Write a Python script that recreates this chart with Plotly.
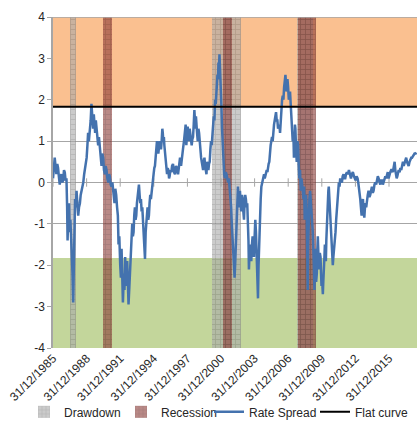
import pandas as pd
import plotly.graph_objects as go

# ---------------- data ----------------
spread_years = [
    1986.00, 1986.08, 1986.15, 1986.22, 1986.30, 1986.38, 1986.45, 1986.52, 1986.60, 1986.68,
    1986.75, 1986.82, 1986.90, 1986.98, 1987.05, 1987.12, 1987.20, 1987.26, 1987.30, 1987.36,
    1987.43, 1987.49, 1987.55, 1987.61, 1987.67, 1987.74, 1987.80, 1987.84, 1987.88, 1987.93,
    1987.97, 1988.03, 1988.10, 1988.17, 1988.25, 1988.32, 1988.40, 1988.47, 1988.55, 1988.62,
    1988.70, 1988.78, 1988.85, 1988.92, 1989.00, 1989.07, 1989.13, 1989.20, 1989.30, 1989.36,
    1989.43, 1989.48, 1989.52, 1989.58, 1989.64, 1989.70, 1989.76, 1989.82, 1989.88, 1989.95,
    1990.03, 1990.10, 1990.18, 1990.26, 1990.33, 1990.40, 1990.48, 1990.55, 1990.63, 1990.70,
    1990.78, 1990.85, 1990.93, 1991.00, 1991.07, 1991.15, 1991.22, 1991.30, 1991.37,
    1991.49, 1991.56, 1991.64, 1991.72, 1991.79, 1991.85, 1991.92, 1992.00, 1992.06, 1992.12,
    1992.18, 1992.24, 1992.29, 1992.33, 1992.38, 1992.44, 1992.49, 1992.53, 1992.58, 1992.62,
    1992.68, 1992.74, 1992.80, 1992.86, 1992.92, 1992.98, 1993.03, 1993.07, 1993.13, 1993.19,
    1993.25, 1993.31, 1993.37, 1993.43, 1993.49, 1993.55, 1993.61, 1993.67, 1993.73, 1993.79,
    1993.85, 1993.91, 1993.97, 1994.03, 1994.08, 1994.12, 1994.17, 1994.21, 1994.27, 1994.33,
    1994.39, 1994.44, 1994.50, 1994.56, 1994.62, 1994.68, 1994.74, 1994.80, 1994.86, 1994.92,
    1994.98, 1995.04, 1995.10, 1995.16, 1995.22, 1995.28, 1995.34, 1995.40, 1995.46, 1995.52,
    1995.58, 1995.64, 1995.70, 1995.76, 1995.80, 1995.85, 1995.90, 1995.94, 1996.00, 1996.06,
    1996.12, 1996.18, 1996.24, 1996.30, 1996.36, 1996.41, 1996.48, 1996.56, 1996.63, 1996.71,
    1996.80, 1996.89, 1996.98, 1997.07, 1997.16, 1997.25, 1997.34, 1997.43, 1997.51, 1997.60,
    1997.69, 1997.78, 1997.84, 1997.90, 1997.96, 1998.02, 1998.08, 1998.14, 1998.20, 1998.26,
    1998.32, 1998.38, 1998.44, 1998.50, 1998.56, 1998.62, 1998.67, 1998.71, 1998.76, 1998.80,
    1998.86, 1998.92, 1998.98, 1999.04, 1999.10, 1999.16, 1999.22, 1999.28, 1999.34, 1999.40,
    1999.46, 1999.52, 1999.58, 1999.64, 1999.70, 1999.75, 1999.81, 1999.87, 1999.93, 1999.99,
    2000.05, 2000.11, 2000.17, 2000.23, 2000.29, 2000.35, 2000.41, 2000.47, 2000.53, 2000.59,
    2000.64, 2000.68, 2000.73, 2000.77, 2000.82, 2000.86, 2000.91, 2000.95, 2001.00, 2001.04,
    2001.09, 2001.13, 2001.18, 2001.22, 2001.28, 2001.34, 2001.42, 2001.49, 2001.56, 2001.63,
    2001.70, 2001.78, 2001.84, 2001.90, 2001.96, 2002.02, 2002.08, 2002.14,
    2002.21, 2002.27, 2002.33, 2002.39, 2002.45, 2002.51, 2002.57, 2002.63, 2002.69, 2002.75,
    2002.81, 2002.87, 2002.93, 2002.99, 2003.05, 2003.10, 2003.16, 2003.22, 2003.28, 2003.34,
    2003.40, 2003.45, 2003.49, 2003.54, 2003.58, 2003.64, 2003.70, 2003.76, 2003.82, 2003.88,
    2003.94, 2004.00, 2004.06, 2004.12, 2004.18, 2004.23, 2004.27, 2004.30, 2004.35, 2004.39,
    2004.44, 2004.48, 2004.54, 2004.60, 2004.66, 2004.72, 2004.78, 2004.84, 2004.90, 2004.96,
    2005.02, 2005.08, 2005.14, 2005.19, 2005.25, 2005.31, 2005.37, 2005.43, 2005.49, 2005.55,
    2005.61, 2005.67, 2005.73, 2005.79, 2005.85, 2005.91, 2005.97, 2006.03, 2006.09, 2006.15,
    2006.21, 2006.27, 2006.33, 2006.39, 2006.45, 2006.51, 2006.57, 2006.63, 2006.69, 2006.75,
    2006.80, 2006.84, 2006.89, 2006.93, 2006.99, 2007.05, 2007.10, 2007.16, 2007.22, 2007.28,
    2007.34, 2007.40,
    2007.46, 2007.51, 2007.55, 2007.60, 2007.64, 2007.70, 2007.76, 2007.82, 2007.88, 2007.94,
    2007.99, 2008.05, 2008.12, 2008.18, 2008.24, 2008.30, 2008.36, 2008.42, 2008.47, 2008.53,
    2008.59, 2008.65, 2008.68, 2008.71, 2008.74, 2008.78, 2008.83, 2008.89, 2008.95, 2009.01,
    2009.07, 2009.13, 2009.19, 2009.24, 2009.28, 2009.31, 2009.34, 2009.38, 2009.43, 2009.49,
    2009.55, 2009.60, 2009.64, 2009.70, 2009.76, 2009.82, 2009.88, 2009.93, 2009.97, 2010.03,
    2010.09, 2010.13, 2010.18, 2010.23, 2010.27, 2010.32, 2010.36, 2010.40, 2010.45, 2010.49,
    2010.53, 2010.58, 2010.62, 2010.66, 2010.71, 2010.75, 2010.80, 2010.84, 2010.89, 2010.94,
    2010.98, 2011.03, 2011.07, 2011.12, 2011.16, 2011.22, 2011.28, 2011.34, 2011.40, 2011.46,
    2011.52, 2011.58, 2011.64, 2011.70, 2011.79, 2011.86, 2011.94, 2012.01, 2012.09, 2012.16,
    2012.24, 2012.33, 2012.42, 2012.51, 2012.60, 2012.68, 2012.77, 2012.87,
    2013.01, 2013.10, 2013.19, 2013.25, 2013.31, 2013.37, 2013.43, 2013.49, 2013.55, 2013.61,
    2013.67, 2013.73, 2013.79, 2013.85, 2013.90, 2013.96, 2014.02, 2014.10, 2014.17, 2014.25,
    2014.32, 2014.40, 2014.47, 2014.55, 2014.62, 2014.70, 2014.77, 2014.85, 2014.92, 2015.00,
    2015.07, 2015.15, 2015.22, 2015.30, 2015.37, 2015.45, 2015.52, 2015.60, 2015.67, 2015.74,
    2015.81, 2015.89, 2015.96, 2016.04, 2016.11, 2016.19, 2016.26, 2016.34, 2016.41, 2016.46,
    2016.50, 2016.56, 2016.62, 2016.68, 2016.74, 2016.80, 2016.86, 2016.94, 2017.01, 2017.09,
    2017.16, 2017.24, 2017.31, 2017.39, 2017.46, 2017.53, 2017.60, 2017.68, 2017.75, 2017.83,
    2017.90, 2017.98, 2018.05, 2018.13, 2018.20, 2018.28, 2018.38, 2018.45,
]

spread_values = [
    0.10, 0.35, 0.60, 0.40, 0.20, 0.45, 0.35, 0.15, -0.05, 0.15,
    0.20, 0.00, 0.05, 0.30, 0.25, 0.05, 0.10, -0.60, -1.40, -0.80,
    -0.50, -1.20, -0.90, -1.30, -1.60, -2.20, -2.90, -2.00, -1.20, -0.70,
    -0.40, -0.60, -0.20, -0.50, -0.80, -0.60, -0.50, -0.30, -0.20, -0.05,
    0.00, 0.20, 0.30, 0.40, 0.60, 0.90, 1.20, 1.00, 1.30, 1.50,
    1.90, 1.70, 1.50, 1.30, 1.65, 1.40, 1.20, 1.50, 1.35, 1.10,
    0.90, 1.10, 0.80, 0.50, 0.40, 0.70, 0.60, 0.30, 0.20, 0.40,
    0.30, 0.10, 0.00, 0.20, 0.15, -0.05, -0.10, 0.00, -0.20,
    -0.50, -0.15, -0.30, -0.60, -0.80, -1.50, -1.30, -2.00, -2.30, -1.60,
    -2.20, -2.90, -2.50, -2.20, -2.60, -1.80, -2.20, -2.50, -2.00, -1.90,
    -2.40, -2.95, -2.60, -2.30, -2.00, -1.50, -1.40, -1.00, -1.30, -1.20,
    -0.80, -0.60, -0.90, -0.80, -0.50, -0.30, -0.20, -0.05, -0.30, -0.50,
    -0.40, -0.70, -0.60, -0.90, -1.10, -1.30, -1.50, -1.85, -1.20, -1.00,
    -0.80, -0.60, -0.90, -0.80, -0.50, -0.30, -0.40, -0.20, -0.10, 0.00,
    0.20, 0.35, 0.40, 0.60, 0.80, 1.00, 0.90, 0.70, 0.85, 1.00,
    0.90, 0.80, 1.00, 1.30, 1.20, 1.00, 1.10, 0.90, 0.70, 0.50,
    0.40, 0.20, 0.35, 0.30, 0.10, 0.15, 0.30, 0.25, 0.40, 0.45,
    0.25, 0.20, 0.40, 0.35, 0.20, 0.50, 0.60, 0.40, 0.70, 0.80,
    1.00, 1.20, 1.40, 0.90, 1.10, 1.35, 1.20, 1.00, 1.30, 1.20,
    1.00, 0.90, 1.05, 1.10, 1.40, 1.75, 1.50, 1.30, 1.60, 1.50,
    1.20, 1.00, 1.30, 1.20, 0.90, 0.80, 0.60, 0.50, 0.30, 0.30,
    0.50, 0.60, 0.40, 0.30, 0.20, 0.50, 0.40, 0.30, 0.45, 0.50,
    0.80, 1.00, 0.90, 1.20, 1.40, 1.60, 1.50, 2.00, 1.90, 2.20,
    2.40, 2.60, 2.50, 2.90, 2.80, 3.10, 2.80, 2.50, 2.10, 1.80,
    1.30, 1.00, 0.60, 0.30, 0.20, 0.10, 0.25, 0.20, 0.05, 0.00,
    0.10, -0.20, -0.30, -0.60, -1.00, -1.30, -1.70, -1.90,
    -2.30, -1.90, -1.40, -0.80, -0.30, -0.10, -0.60, -0.30, -0.20, -0.50,
    -0.70, -0.30, -0.40, -0.70, -0.90, -0.50, -0.30, -0.40, -0.60, -0.50,
    -0.90, -1.40, -2.10, -1.70, -1.50, -1.80, -1.90, -1.50, -1.30, -1.60,
    -1.80, -1.30, -0.90, -1.20, -1.60, -2.20, -2.60, -2.80, -2.00, -1.50,
    -1.10, -0.80, -0.40, -0.10, 0.00, 0.05, 0.10, 0.20, 0.10, 0.15,
    0.25, 0.30, 0.25, 0.40, 0.45, 0.50, 0.80, 0.90, 1.00, 1.10,
    1.00, 1.30, 1.40, 1.50, 1.60, 1.70, 1.50, 1.50, 1.30, 1.40,
    1.40, 1.20, 1.60, 1.90, 2.00, 2.10, 2.00, 2.30, 2.40, 2.60,
    2.40, 2.20, 2.30, 2.50, 2.30, 2.00, 2.10, 2.20, 1.90, 1.60,
    1.30, 1.00,
    1.20, 0.60, 0.90, 1.40, 1.30, 0.80, 0.50, 1.00, 0.90, 0.40,
    0.10, 0.30, -0.20, 0.10, 0.00, -0.20, -0.40, -0.10, -0.90, -0.50,
    -0.30, -0.70, -1.20, -2.00, -2.60, -1.50, -0.80, -0.40, -0.20, -0.40,
    -0.60, -0.90, -1.20, -1.60, -2.00, -2.40, -2.60, -2.00, -1.60, -2.40,
    -2.20, -1.60, -1.30, -1.80, -2.10, -1.70, -1.80, -2.20, -2.50, -2.40,
    -2.70, -2.40, -2.20, -1.80, -1.50, -1.70, -1.90, -1.40, -0.90, -0.60,
    -0.40, -0.20, -0.10, -0.30, -0.50, -0.90, -1.20, -1.40, -1.60, -1.90,
    -2.00, -1.80, -1.70, -1.50, -1.40, -1.20, -0.90, -0.70, -0.50, -0.20,
    0.00, -0.10, 0.10, 0.05, 0.00, 0.15, 0.20, 0.10, 0.10, 0.20,
    0.25, 0.20, 0.30, 0.20, 0.10, 0.20, 0.25, 0.15,
    0.05, 0.15, 0.10, 0.00, -0.10, -0.30, -0.40, -0.60, -0.80, -0.50,
    -0.40, -0.70, -0.85, -0.60, -0.50, -0.60, -0.40, -0.30, -0.20, -0.35,
    -0.30, -0.15, -0.10, -0.25, -0.20, -0.05, 0.00, -0.05, 0.05, 0.15,
    0.10, 0.00, -0.05, 0.05, 0.05, -0.05, 0.00, 0.10, 0.15, 0.10,
    0.20, 0.25, 0.10, 0.20, 0.25, 0.30, 0.30, 0.25, 0.35, 0.45,
    0.50, 0.30, 0.20, 0.10, 0.15, 0.25, 0.30, 0.25, 0.35, 0.30,
    0.45, 0.50, 0.40, 0.50, 0.55, 0.60, 0.50, 0.45, 0.40, 0.50,
    0.55, 0.60, 0.60, 0.65, 0.65, 0.70, 0.70, 0.72,
]

drawdown_start = ["1987-07-22", "2000-03-20", "2007-10-09"]
drawdown_end = ["1988-01-12", "2002-10-09", "2009-03-09"]
recession_start = ["1990-07-01", "2001-03-01", "2007-12-01"]
recession_end = ["1991-04-15", "2001-12-15", "2009-06-30"]

flat_curve = 1.83
low_zone = -1.82
y_min, y_max = -4, 4
x_start, x_end = "1985-12-31", "2018-07-01"

x_tick_dates = ["1985-12-31", "1988-12-31", "1991-12-31", "1994-12-31", "1997-12-31",
                "2000-12-31", "2003-12-31", "2006-12-31", "2009-12-31", "2012-12-31",
                "2015-12-31"]
x_tick_text = ["31/12/1985", "31/12/1988", "31/12/1991", "31/12/1994", "31/12/1997",
               "31/12/2000", "31/12/2003", "31/12/2006", "31/12/2009", "31/12/2012",
               "31/12/2015"]
y_tick_vals = [-4, -3, -2, -1, 0, 1, 2, 3, 4]
y_tick_text = ["-4", "-3", "-2", "-1", "0", "1", "2", "3", "4"]

legend_names = ["Drawdown", "Recession", "Rate Spread", "Flat curve"]


# ---------------- helpers ----------------
def frac_year_to_ts(fy):
    yr = int(fy)
    start = pd.Timestamp(year=yr, month=1, day=1)
    end = pd.Timestamp(year=yr + 1, month=1, day=1)
    return start + (end - start) * (fy - yr)


spread_dates = [frac_year_to_ts(v) for v in spread_years]


def band_geometry(starts, ends):
    s = pd.to_datetime(starts)
    e = pd.to_datetime(ends)
    centers = [a + (b - a) / 2 for a, b in zip(s, e)]
    widths = [(b - a).total_seconds() * 1000 for a, b in zip(s, e)]
    return centers, widths


dd_c, dd_w = band_geometry(drawdown_start, drawdown_end)
rc_c, rc_w = band_geometry(recession_start, recession_end)
full_c, full_w = band_geometry([x_start], [x_end])

FONT = "Liberation Sans"
TXT = "#262626"
GRID = "#a6a6a6"

fig = go.Figure()

# background zones (orange above the flat-curve level, green at the bottom)
fig.add_trace(go.Bar(
    x=full_c, y=[y_max - flat_curve], base=flat_curve, width=full_w, showlegend=False,
    marker=dict(color="#FAC090", line=dict(width=0)), hoverinfo="skip",
))
fig.add_trace(go.Bar(
    x=full_c, y=[low_zone - y_min], base=y_min, width=full_w, showlegend=False,
    marker=dict(color="#C3D69B", line=dict(width=0)), hoverinfo="skip",
))

# small tick marks on the zero line (axis decoration)
fig.add_trace(go.Scatter(
    x=x_tick_dates, y=[0] * len(x_tick_dates), mode="markers", showlegend=False,
    marker=dict(symbol="line-ns", size=6, line=dict(color=GRID, width=1)),
    hoverinfo="skip",
))

fig.add_trace(go.Bar(
    x=dd_c, y=[y_max - y_min] * len(dd_c), base=y_min, width=dd_w,
    name=legend_names[0], legend="legend", opacity=0.6,
    marker=dict(color="rgb(165,165,165)", line=dict(width=0),
                pattern=dict(shape="+", fgcolor="rgb(95,95,95)",
                             bgcolor="rgb(170,170,170)", size=5, solidity=0.3)),
    hoverinfo="skip",
))
fig.add_trace(go.Bar(
    x=rc_c, y=[y_max - y_min] * len(rc_c), base=y_min, width=rc_w,
    name=legend_names[1], legend="legend2", opacity=0.6,
    marker=dict(color="rgb(140,55,50)", line=dict(width=0),
                pattern=dict(shape="+", fgcolor="rgb(70,15,15)",
                             bgcolor="rgb(140,60,55)", size=5, solidity=0.3)),
    hoverinfo="skip",
))
fig.add_trace(go.Scatter(
    x=spread_dates, y=spread_values, mode="lines", name=legend_names[2], legend="legend3",
    line=dict(color="#4472AE", width=2.5),
))
fig.add_trace(go.Scatter(
    x=[x_start, x_end], y=[flat_curve, flat_curve], mode="lines", name=legend_names[3],
    legend="legend4", line=dict(color="#000000", width=2),
))

leg_common = dict(orientation="h", xref="container", yref="container", y=0.031,
                  yanchor="middle", xanchor="left", bgcolor="rgba(0,0,0,0)",
                  font=dict(size=12, family=FONT, color=TXT), itemwidth=30)

fig.update_layout(
    width=418, height=425,
    margin=dict(l=53, r=1, t=17, b=77, autoexpand=False),
    paper_bgcolor="white", plot_bgcolor="white",
    barmode="overlay", bargap=0,
    font=dict(family=FONT, color=TXT),
    showlegend=True,
    legend=dict(x=24 / 418, **leg_common),
    legend2=dict(x=121 / 418, **leg_common),
    legend3=dict(x=209 / 418, **leg_common),
    legend4=dict(x=315 / 418, **leg_common),
    xaxis=dict(type="date", range=[x_start, x_end], tickmode="array",
               tickvals=x_tick_dates, ticktext=x_tick_text, tickangle=-45,
               showgrid=False, showline=False, zeroline=False, ticks="",
               automargin=False,
               tickfont=dict(size=12, family=FONT, color=TXT)),
    yaxis=dict(range=[y_min, y_max], tickmode="array", tickvals=y_tick_vals,
               ticktext=y_tick_text, showgrid=True, gridcolor=GRID, gridwidth=1.2,
               zeroline=True, zerolinecolor=GRID, zerolinewidth=1.4,
               showline=True, linecolor=GRID, linewidth=1.5,
               ticks="outside", ticklen=4, tickcolor=GRID, automargin=False,
               tickfont=dict(size=12, family=FONT, color=TXT)),
    shapes=[
        dict(type="line", xref="x domain", yref="y", x0=0, x1=1, y0=y_max, y1=y_max,
             line=dict(color=GRID, width=1.5), layer="above"),
    ],
)

fig.write_html(
    "out.html",
    config={"displayModeBar": False},
    post_script="document.body.style.margin='0';document.body.style.overflow='hidden';",
)
